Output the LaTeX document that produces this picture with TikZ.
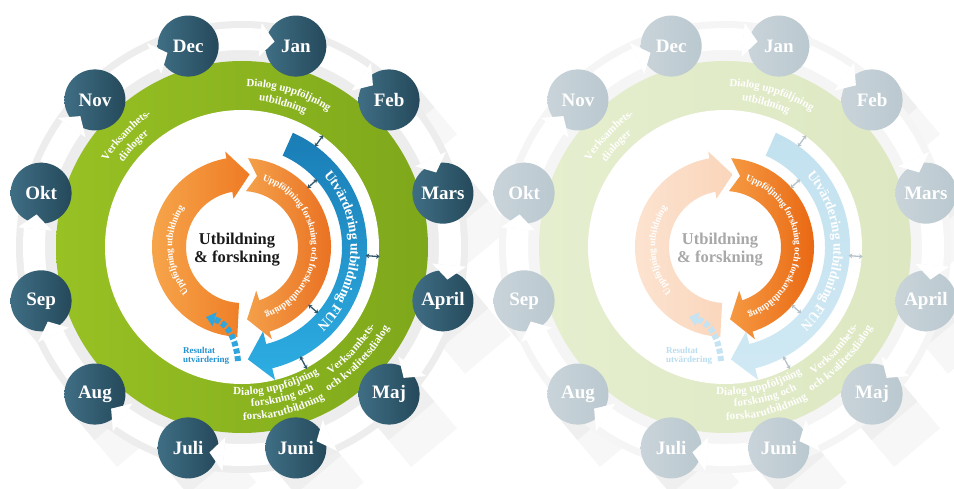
\documentclass[tikz,border=0pt]{standalone}
\usepackage{fontspec}
\setmainfont{Liberation Serif}
\usetikzlibrary{decorations.text,arrows.meta}

\tikzset{
  monthlabel/.style={text=white,font=\bfseries\fontsize{19}{19}\selectfont,inner sep=0pt},
  dblarrow/.style={draw=wDbl,line width=1.3pt,{Stealth[length=3.5pt,width=5pt]}-{Stealth[length=3.5pt,width=5pt]}},
  dasharrow/.style={draw=wDash,line width=6pt,dash pattern=on 5pt off 2.5pt,-{Triangle[length=9pt,width=14pt]}},
  centertext/.style={text=wCenter,font=\bfseries\fontsize{16.5}{18}\selectfont,align=center},
  restext/.style={text=wRes,font=\bfseries\fontsize{9}{9.5}\selectfont,align=left,inner sep=0pt,anchor=west},
}

% radius, start angle, end angle, font size, raise, text
\newcommand\ringtext[6]{%
  \path[decorate,decoration={text along path,text align=center,raise=#5,
    text={|\color{white}\bfseries\fontsize{#4}{#4}\selectfont|#6}}]
    (#2:#1) arc[start angle=#2,end angle=#3,radius=#1];}

\newcommand\drawwheel{%
  \foreach \a in {75,45,15,-15,-45,-75,-105,-135,-165,165,135,105}{%
    \begin{scope}[shift={(\a:208)}]
      \fill[black,opacity=0.03] (40:30) -- ++(-50:70) -- ++(-140:60) -- ++(130:70) -- cycle;
      \fill[black,opacity=0.03] (40:30) -- ++(-50:35) -- ++(-140:60) -- ++(130:35) -- cycle;
    \end{scope}}
  \fill[wRing] (0,0) circle[radius=226];
  \shade[left color=wGreenL,right color=wGreenD] (0,0) circle[radius=186];
  \fill[white] (0,0) circle[radius=137];
  % white arrow bodies between the months
  \foreach \a in {75,45,15,-15,-45,-75,-105,-135,-165,165,135,105}{%
    \fill[wArr] (\a-8:197) arc[start angle=\a-8,end angle=\a-20,radius=197]
      -- (\a-20:219) arc[start angle=\a-20,end angle=\a-8,radius=219] -- cycle;}
  % month discs
  \foreach \a in {75,45,15,-15,-45,-75,-105,-135,-165,165,135,105}{%
    \shade[left color=wMonL,right color=wMonD] (\a:208) circle[radius=30.5];}
  % arrow heads cutting into the next month
  \foreach \a in {75,45,15,-15,-45,-75,-105,-135,-165,165,135,105}{%
    \fill[wArr] (\a-20:191) -- (\a-24:208) -- (\a-20:225) -- cycle;}
  \foreach \m/\a [count=\i] in {Jan/75,Feb/45,Mars/15,April/-15,Maj/-45,Juni/-75,Juli/-105,Aug/-135,Sep/-165,Okt/165,Nov/135,Dec/105}{%
    \node[monthlabel] (m\i) at (\a:208) {\m};}
  % inner arrows
  \shade[left color=wOLa,right color=wOLb] (-93:56) arc[start angle=-93,end angle=-260,radius=56]
    -- (100:49) -- (84:73) -- (100:97) -- (100:90) arc[start angle=100,end angle=267,radius=90] -- cycle;
  \shade[left color=wORa,right color=wORb] (86:89) -- (78:72.5) -- (86:56) arc[start angle=86,end angle=-72,radius=56]
    -- (-72:46) -- (-86:72.5) -- (-72:97) -- (-72:89) arc[start angle=-72,end angle=86,radius=89] -- cycle;
  \shade[top color=wBa,bottom color=wBb] (66:125) -- (66:100) arc[start angle=66,end angle=-76,radius=100]
    -- (-76:87) -- (-87:112.5) -- (-76:137) -- (-76:125) arc[start angle=-76,end angle=66,radius=125] -- cycle;
  % small double arrows
  \foreach \ang/\ra/\rb [count=\j] in {54/124/138,42/88/101,-4/124/138,-41/88/101,-62/124/138}{%
    \coordinate (da\j) at (\ang:\ra);
    \coordinate (db\j) at (\ang:\rb);
    \draw[dblarrow] (da\j) -- (db\j);}
  % texts on the ring
  \ringtext{164}{103}{43}{11}{-3pt}{Dialog uppföljning}
  \ringtext{150}{104}{44}{11}{-3pt}{utbildning}
  \ringtext{163}{166}{106}{11}{-3pt}{Verksamhets-}
  \ringtext{149}{167}{107}{11}{-3pt}{dialoger}
  \ringtext{152}{-73}{-13}{11}{-3pt}{Verksamhets-}
  \ringtext{165}{-74}{-14}{11}{-3pt}{och kvalitetsdialog}
  \ringtext{145}{-106}{-46}{11}{-3pt}{Dialog uppföljning}
  \ringtext{157}{-105}{-45}{11}{-3pt}{forskning och}
  \ringtext{170}{-105}{-46}{11}{-3pt}{forskarutbildning}
  \ringtext{112.5}{60}{-65}{14}{-4pt}{Utvärdering utbildning FUN}
  \ringtext{72.5}{86}{-84}{9.5}{-2.7pt}{Uppföljning forskning och forskarutbildning}
  \ringtext{72.5}{240}{126}{9.5}{-2.7pt}{Uppföljning utbildning}
  % dashed result arrow
  \coordinate (ds) at (-4,-114);
  \coordinate (de) at (-36,-70);
  \draw[dasharrow] (ds) .. controls (-6,-92) and (-14,-76) .. (de);
  \node[restext] (res) at (-59,-109) {Resultat\\utvärdering};
  \node[centertext] (ctr) at (-5,-3) {Utbildning\\\& forskning};
}

\begin{document}
\begin{tikzpicture}[x=1pt,y=1pt]
\useasboundingbox (0,0) rectangle (954,488);
\fill[white] (0,0) rectangle (954,488);
\begin{scope}[shift={(242,241)},name prefix=L-]
  \definecolor{wRing}{HTML}{EDEDED}
  \definecolor{wGreenL}{HTML}{98C124}
  \definecolor{wGreenD}{HTML}{7EA81B}
  \definecolor{wArr}{HTML}{FFFFFF}
  \definecolor{wMonL}{HTML}{3F6E84}
  \definecolor{wMonD}{HTML}{25495B}
  \definecolor{wOLa}{HTML}{F7A84E}
  \definecolor{wOLb}{HTML}{EE7B24}
  \definecolor{wORa}{HTML}{F4A04A}
  \definecolor{wORb}{HTML}{E86C1E}
  \definecolor{wBa}{HTML}{1A7DB6}
  \definecolor{wBb}{HTML}{2DAEE3}
  \definecolor{wDbl}{HTML}{2F566A}
  \definecolor{wDash}{HTML}{2FA5DE}
  \definecolor{wRes}{HTML}{2592D0}
  \definecolor{wCenter}{HTML}{1A1A1A}
  \drawwheel
\end{scope}
\begin{scope}[shift={(725,241)},name prefix=R-]
  \definecolor{wRing}{HTML}{F5F5F5}
  \definecolor{wGreenL}{HTML}{E5EECE}
  \definecolor{wGreenD}{HTML}{DDE8C2}
  \definecolor{wArr}{HTML}{FFFFFF}
  \definecolor{wMonL}{HTML}{C9D4DA}
  \definecolor{wMonD}{HTML}{BAC8CF}
  \definecolor{wOLa}{HTML}{FCE4D2}
  \definecolor{wOLb}{HTML}{FAD5BA}
  \definecolor{wORa}{HTML}{F59A42}
  \definecolor{wORb}{HTML}{E8620E}
  \definecolor{wBa}{HTML}{C2E1EF}
  \definecolor{wBb}{HTML}{D0E9F4}
  \definecolor{wDbl}{HTML}{B5C2C9}
  \definecolor{wDash}{HTML}{C4E3F3}
  \definecolor{wRes}{HTML}{B9DEF0}
  \definecolor{wCenter}{HTML}{A8A8A8}
  \drawwheel
\end{scope}
\end{tikzpicture}
\end{document}
